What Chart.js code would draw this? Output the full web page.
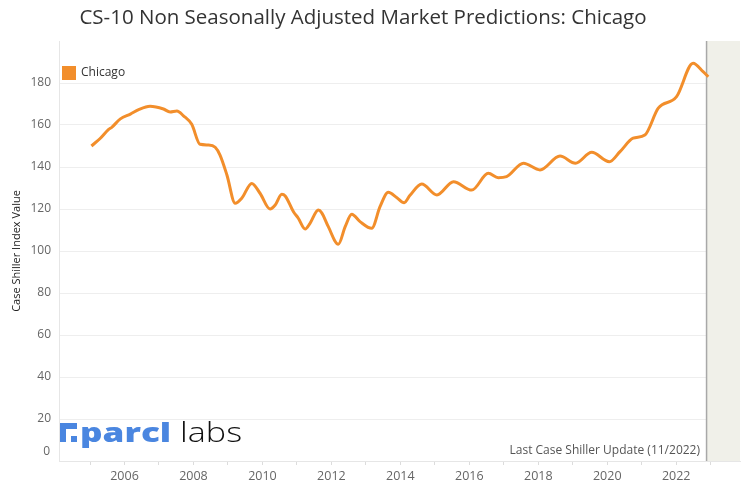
<!DOCTYPE html>
<html>
<head>
<meta charset="utf-8">
<script src="https://cdn.jsdelivr.net/npm/chart.js@4/dist/chart.umd.min.js"></script>
<style>
  html, body { margin: 0; padding: 0; background: #fff; }
  #wrap { width: 744px; height: 487px; position: relative; }
</style>
</head>
<body>
<div id="wrap"><canvas id="grafico" width="744" height="487"></canvas></div>
<script>
// dados (ano decimal, indice)
const anos = [2005.04, 2005.3, 2005.54, 2005.63, 2005.88, 2006.17, 2006.41, 2006.74, 2007.13, 2007.32,
  2007.52, 2007.71, 2007.95, 2008.19, 2008.43, 2008.63, 2008.77, 2008.97, 2009.21, 2009.4,
  2009.69, 2009.93, 2010.22, 2010.37, 2010.56, 2010.66, 2010.9, 2011.04, 2011.24, 2011.38,
  2011.62, 2011.72, 2011.91, 2012.2, 2012.4, 2012.59, 2012.83, 2013.17, 2013.41, 2013.65,
  2013.9, 2014.11, 2014.28, 2014.62, 2015.06, 2015.54, 2016.07, 2016.55, 2016.84, 2017.08,
  2017.57, 2018.05, 2018.63, 2019.08, 2019.55, 2020.06, 2020.37, 2020.75, 2021.09, 2021.48,
  2022.01, 2022.49, 2022.78, 2022.93];
const valores = [150.0, 153.7, 157.9, 158.9, 162.9, 165.2, 167.3, 168.9, 167.6, 166.2,
  166.7, 164.4, 160.3, 150.8, 150.5, 149.4, 145.7, 136.2, 122.7, 125.1,
  132.2, 127.5, 120.0, 121.9, 127.0, 126.2, 118.7, 115.6, 110.5, 113.2,
  119.5, 118.2, 111.6, 103.2, 111.6, 117.5, 114.0, 110.8, 121.1, 128.0,
  125.4, 123.0, 126.5, 131.9, 126.7, 133.0, 129.0, 137.0, 134.9, 135.4,
  141.8, 138.6, 145.2, 141.8, 147.0, 142.5, 147.3, 153.7, 155.2, 168.0,
  173.5, 189.4, 185.4, 183.0];
const marcasY = [0, 20, 40, 60, 80, 100, 120, 140, 160, 180];
const ultimaAtualizacao = 2022.88; // 11/2022
const nomeSerie = 'Chicago';
const corSerie = '#f28e2b';

const pontos = [];
for (i = 0; i < anos.length; i++) {
  pontos.push({ x: anos[i], y: valores[i] });
}

const extras = {
  id: 'extras',
  beforeDatasetsDraw(chart) {
    const ctx = chart.ctx;
    const a = chart.chartArea;
    const xs = chart.scales.x;
    const x0 = xs.getPixelForValue(ultimaAtualizacao);
    ctx.save();
    ctx.fillStyle = '#f0f0e9';
    ctx.fillRect(x0, a.top, a.right - x0, a.bottom - a.top);
    ctx.strokeStyle = '#a8a8a8';
    ctx.lineWidth = 1.5;
    ctx.beginPath();
    ctx.moveTo(x0, a.top);
    ctx.lineTo(x0, a.bottom);
    ctx.stroke();
    ctx.restore();
  },
  afterDraw(chart) {
    const ctx = chart.ctx;
    ctx.save();
    // titulo
    ctx.fillStyle = '#333';
    ctx.font = '20.5px "Open Sans", sans-serif';
    ctx.textAlign = 'center';
    ctx.textBaseline = 'middle';
    ctx.fillText('CS-10 Non Seasonally Adjusted Market Predictions: Chicago', 363, 18);
    // legenda
    ctx.fillStyle = corSerie;
    ctx.fillRect(62, 66, 14, 14);
    ctx.fillStyle = '#333';
    ctx.font = '12px "Open Sans", sans-serif';
    ctx.textAlign = 'left';
    ctx.fillText(nomeSerie, 81, 73);
    // rotulo 0 (deslocado para cima como no original)
    ctx.fillStyle = '#666';
    ctx.textAlign = 'right';
    ctx.fillText('0', 50, 452);
    // nota
    ctx.fillStyle = '#555';
    ctx.fillText('Last Case Shiller Update (11/2022)', 700, 451);
    // logo
    ctx.fillStyle = '#4a86e0';
    ctx.fillRect(60, 423, 17, 6);
    ctx.fillRect(60, 423, 6, 19);
    ctx.fillRect(71, 436, 6, 6);
    ctx.textBaseline = 'alphabetic';
    ctx.textAlign = 'left';
    ctx.save();
    ctx.translate(80, 442);
    ctx.scale(1.3, 1);
    ctx.font = '800 27px "Open Sans", sans-serif';
    ctx.fillText('parcl', 0, 0);
    ctx.restore();
    ctx.save();
    ctx.translate(180, 442);
    ctx.scale(1.22, 1);
    ctx.fillStyle = '#111';
    ctx.font = '300 28px "Open Sans", sans-serif';
    ctx.fillText('labs', 0, 0);
    ctx.restore();
    ctx.restore();
  }
};

const config = {
  type: 'line',
  data: {
    datasets: [{
      label: nomeSerie,
      data: pontos,
      borderColor: corSerie,
      borderWidth: 3,
      pointRadius: 0,
      fill: false,
      cubicInterpolationMode: 'monotone'
    }]
  },
  options: {
    responsive: false,
    animation: false,
    layout: { padding: { top: 41, right: 4, left: 0, bottom: 0 } },
    plugins: { legend: { display: false }, tooltip: { enabled: false } },
    scales: {
      x: {
        type: 'linear',
        min: 2004.1,
        max: 2023.85,
        afterFit: s => { s.height = 26; },
        grid: { drawOnChartArea: false, drawTicks: true, tickLength: 4, color: '#dcdcdc' },
        border: { color: '#e6e6e6' },
        ticks: {
          stepSize: 1,
          includeBounds: false,
          autoSkip: false,
          maxRotation: 0,
          padding: 4,
          color: '#666',
          font: { family: '"Open Sans", sans-serif', size: 12.5 },
          callback: v => (v % 2 === 0 ? String(v) : '')
        }
      },
      y: {
        min: 0,
        max: 200,
        afterFit: s => { s.width = 59; },
        afterBuildTicks: s => { s.ticks = marcasY.map(v => ({ value: v })); },
        grid: { drawTicks: false, color: '#eeeeee' },
        border: { color: '#e6e6e6' },
        title: {
          display: true,
          text: 'Case Shiller Index Value',
          color: '#222',
          padding: { top: 10, bottom: 2 },
          font: { family: '"Open Sans", sans-serif', size: 11 }
        },
        ticks: {
          padding: 8,
          color: '#666',
          font: { family: '"Open Sans", sans-serif', size: 12 },
          callback: v => (v === 0 ? '' : String(v))
        }
      }
    }
  },
  plugins: [extras]
};

window.grafico = new Chart(document.getElementById('grafico'), config);
</script>
</body>
</html>
